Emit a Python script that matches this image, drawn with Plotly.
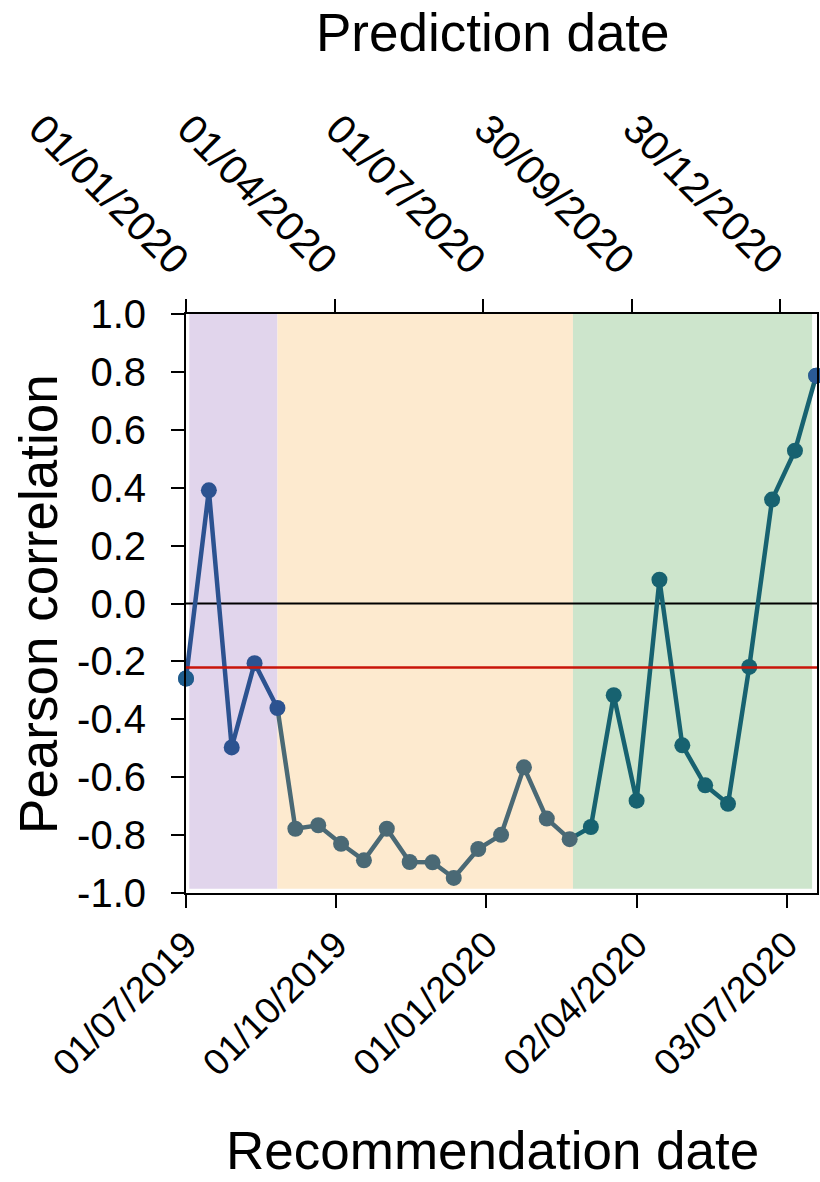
import plotly.graph_objects as go
import pandas as pd

# ---- data ----
rec_dates = ["2019-07-01", "2019-07-15", "2019-07-29", "2019-08-12", "2019-08-26",
             "2019-09-06", "2019-09-20", "2019-10-04", "2019-10-18", "2019-11-01",
             "2019-11-15", "2019-11-29", "2019-12-12", "2019-12-27", "2020-01-10",
             "2020-01-24", "2020-02-07", "2020-02-21", "2020-03-05", "2020-03-19",
             "2020-04-02", "2020-04-16", "2020-04-30", "2020-05-14", "2020-05-28",
             "2020-06-10", "2020-06-24", "2020-07-08", "2020-07-21"]
pearson = [-0.259, 0.391, -0.497, -0.206, -0.361,
           -0.778, -0.766, -0.830, -0.887, -0.778,
           -0.893, -0.894, -0.948, -0.848, -0.799,
           -0.566, -0.743, -0.814, -0.772, -0.317,
           -0.681, 0.082, -0.490, -0.628, -0.692,
           -0.219, 0.359, 0.528, 0.787]

# index ranges of the three phases (line segments share boundary points)
phase1_idx = list(range(0, 5))
phase2_idx = list(range(4, 18))
phase3_idx = list(range(17, 29))
phase1_marker_idx = list(range(0, 5))
phase2_marker_idx = list(range(5, 18))
phase3_marker_idx = list(range(18, 29))

region_starts = ["2019-07-03", "2019-08-26", "2020-02-23"]
region_ends = ["2019-08-26", "2020-02-23", "2020-07-18 12:00"]
region_colors = ["#E1D5EC", "#FDEACF", "#CDE5CC"]

ref_line_value = -0.221

bottom_tickvals = ["2019-07-01", "2019-10-01", "2020-01-01", "2020-04-02", "2020-07-03"]
bottom_ticktext = ["01/07/2019", "01/10/2019", "01/01/2020", "02/04/2020", "03/07/2020"]
top_tickvals = ["2020-01-01", "2020-04-01", "2020-07-01", "2020-09-30", "2020-12-30"]
top_ticktext = ["01/01/2020", "01/04/2020", "01/07/2020", "30/09/2020", "30/12/2020"]
y_tickvals = [-1.0, -0.8, -0.6, -0.4, -0.2, 0.0, 0.2, 0.4, 0.6, 0.8, 1.0]
y_ticktext = ["-1.0", "-0.8", "-0.6", "-0.4", "-0.2", "0.0", "0.2", "0.4", "0.6", "0.8", "1.0"]

x_start = pd.Timestamp("2019-07-01")
span_days = 386.5
x_end = x_start + pd.Timedelta(days=span_days)
top_start = pd.Timestamp("2020-01-01")
top_end = top_start + pd.Timedelta(days=span_days)

BLUE = "#2C5290"
GREY = "#4A6975"
TEAL = "#176270"
FONT = "Liberation Sans, Arial, sans-serif"

fig = go.Figure()

def pick(idx, arr):
    return [arr[i] for i in idx]

# lines
for idx, col in [(phase1_idx, BLUE), (phase2_idx, GREY), (phase3_idx, TEAL)]:
    fig.add_trace(go.Scatter(x=pick(idx, rec_dates), y=pick(idx, pearson), mode="lines",
                             line=dict(color=col, width=4.5), showlegend=False, hoverinfo="skip"))
# markers
for idx, col in [(phase1_marker_idx, BLUE), (phase2_marker_idx, GREY), (phase3_marker_idx, TEAL)]:
    fig.add_trace(go.Scatter(x=pick(idx, rec_dates), y=pick(idx, pearson), mode="markers",
                             marker=dict(color=col, size=16, line=dict(width=0)),
                             showlegend=False, cliponaxis=False))
# end points
fig.add_trace(go.Scatter(x=[rec_dates[0]], y=[pearson[0]], mode="markers",
                         marker=dict(color="#1E5C8C", size=16), showlegend=False, cliponaxis=False))
fig.add_trace(go.Scatter(x=[rec_dates[-1]], y=[pearson[-1]], mode="markers",
                         marker=dict(color="#2A5A96", size=16), showlegend=False, cliponaxis=False))

# invisible trace for the top (prediction date) axis
fig.add_trace(go.Scatter(x=top_tickvals, y=[None] * len(top_tickvals), xaxis="x2",
                         mode="markers", showlegend=False, hoverinfo="skip"))

shapes = []
for s, e, c in zip(region_starts, region_ends, region_colors):
    shapes.append(dict(type="rect", xref="x", yref="y", x0=s, x1=e, y0=-0.985, y1=1.0,
                       fillcolor=c, line=dict(width=0), layer="below"))
shapes.append(dict(type="line", xref="x", yref="y", x0=x_start, x1=x_end, y0=0, y1=0,
                   line=dict(color="black", width=2), layer="below"))
shapes.append(dict(type="line", xref="x", yref="y", x0=x_start, x1=x_end,
                   y0=ref_line_value, y1=ref_line_value,
                   line=dict(color="#C8150A", width=2.5), layer="above"))

fig.update_layout(
    width=820, height=1182,
    margin=dict(l=186, r=1, t=314, b=289, pad=0),
    paper_bgcolor="white", plot_bgcolor="white",
    font=dict(family=FONT, color="black"),
    shapes=shapes,
    xaxis=dict(type="date", range=[x_start, x_end], tickmode="array",
               tickvals=bottom_tickvals, ticktext=bottom_ticktext, tickangle=-45,
               tickfont=dict(size=37, family=FONT), ticks="outside", ticklen=13, tickwidth=2,
               tickcolor="black", showline=True, linewidth=2, linecolor="black",
               showgrid=False, zeroline=False),
    xaxis2=dict(type="date", overlaying="x", side="top", range=[top_start, top_end],
                tickmode="array", tickvals=top_tickvals, ticktext=top_ticktext, tickangle=45,
                tickfont=dict(size=41, family=FONT), ticks="outside", ticklen=13, tickwidth=2,
                tickcolor="black", showline=True, linewidth=2, linecolor="black",
                showgrid=False, zeroline=False),
    yaxis=dict(range=[-1, 1], tickmode="array", tickvals=y_tickvals, ticktext=y_ticktext,
               tickfont=dict(size=40, family=FONT), ticks="outside", ticklen=13, tickwidth=2,
               tickcolor="black", showline=True, linewidth=2, linecolor="black", mirror=True,
               showgrid=False, zeroline=False, ticklabelstandoff=17),
    annotations=[
        dict(text="Pearson correlation", xref="paper", yref="paper", x=(38 - 186) / 633,
             y=0.5, textangle=-90, showarrow=False, xanchor="center", yanchor="middle",
             font=dict(size=53, family=FONT)),
        dict(text="Recommendation date", xref="paper", yref="paper", x=(493 - 186) / 633,
             y=-(1181 - 893) / 579, showarrow=False, xanchor="center", yanchor="bottom",
             borderpad=0, font=dict(size=53, family=FONT)),
        dict(text="Prediction date", xref="paper", yref="paper", x=(494 - 186) / 633,
             y=1 + (314 - 33) / 579, showarrow=False, xanchor="center", yanchor="middle",
             font=dict(size=53, family=FONT)),
    ],
)

fig.write_html("out.html")
